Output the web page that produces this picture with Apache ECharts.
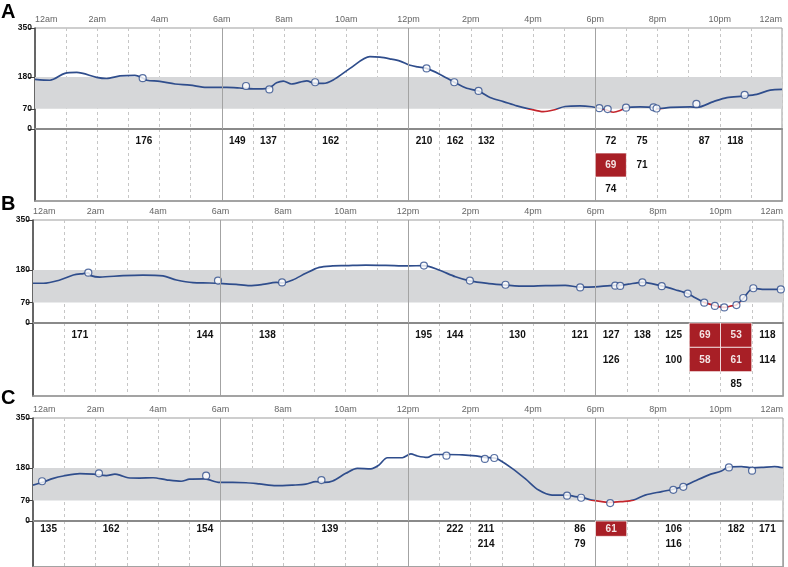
<!DOCTYPE html>
<html><head><meta charset="utf-8">
<script src="https://cdn.jsdelivr.net/npm/echarts@6/dist/echarts.min.js"></script>
<style>html,body{margin:0;padding:0;background:#fff}#c{width:788px;height:567px}</style>
</head><body><div id="c"></div>
<script>
// ---- data ----
const tickLabels = ['12am','2am','4am','6am','8am','10am','12pm','2pm','4pm','6pm','8pm','10pm','12am'];
const yTicks = [0, 70, 180, 350];
const targetRange = [70, 180];
const lowLimit = 70;
const panelLetters = ['A', 'B', 'C'];

// continuous sensor trace [hour, mg/dL]
const traceA = [[0,172],[0.48,169],[0.96,193],[1.34,196],[1.98,179],[2.30,175],[2.73,184],[3.21,186],[3.46,177],[3.59,169],[4.01,165],[4.50,156],[4.98,152],[5.51,144],[6.16,144],[6.58,142],[7.01,139],[7.49,141],[7.76,160],[7.98,166],[8.24,156],[8.73,167],[8.99,158],[9.26,158],[9.58,170],[10.12,210],[10.76,251],[11.08,249],[11.4,243],[11.73,235],[12.02,222],[12.3,215],[12.58,210],[13.0,190],[13.47,162],[13.87,141],[14.24,132],[14.62,109],[15.05,95],[15.48,80],[15.90,69],[16.33,60],[16.66,66],[17.03,78],[17.51,80],[17.89,77],[18.13,72],[18.37,66],[18.58,58],[18.80,64],[18.99,74],[19.44,77],[19.87,75],[19.98,70],[20.41,75],[21.05,77],[21.27,75],[21.80,95],[22.23,109],[22.76,114],[23.19,120],[23.62,135],[24,137]];
const traceB = [[0,135],[0.33,135],[0.86,146],[1.29,163],[1.61,168],[1.77,170],[1.85,161],[2.14,156],[2.88,161],[3.52,163],[4.16,160],[4.59,146],[5.12,137],[5.65,136],[6.07,134],[6.50,131],[6.93,127],[7.35,131],[7.78,138],[7.97,136],[8.31,146],[8.73,169],[9.16,189],[9.59,194],[10.01,195],[10.65,197],[11.29,196],[12.0,194],[12.51,195],[12.99,180],[13.52,157],[13.98,143],[14.59,134],[15.12,129],[15.76,125],[16.40,127],[17.03,128],[17.51,122],[17.99,123],[18.63,128],[18.79,128],[19.05,132],[19.50,138],[19.80,134],[20.12,126],[20.55,113],[20.95,100],[21.19,86],[21.48,70],[21.82,59],[22.12,53],[22.35,58],[22.51,61],[22.73,84],[23.05,118],[23.42,114],[24,115]];
const traceC = [[0,122],[0.29,131],[0.65,145],[0.97,153],[1.5,161],[1.93,159],[2.35,154],[2.62,159],[2.78,156],[3.04,147],[3.41,146],[3.84,147],[4.27,140],[4.74,135],[5.01,142],[5.49,143],[5.97,131],[6.39,131],[6.82,130],[7.24,126],[7.78,120],[8.31,122],[8.73,125],[9.05,134],[9.32,131],[9.59,136],[10.01,162],[10.38,179],[10.81,177],[11.07,190],[11.34,215],[11.82,215],[12.09,228],[12.30,221],[12.62,216],[12.84,226],[13.23,226],[13.74,225],[14.17,221],[14.46,216],[14.76,214],[14.90,209],[15.33,179],[15.76,143],[16.18,105],[16.61,88],[17.09,88],[17.35,83],[17.54,81],[17.88,71],[18.20,66],[18.47,63],[18.84,66],[19.21,71],[19.59,88],[20.12,100],[20.49,108],[20.81,118],[21.18,136],[21.61,156],[22.03,170],[22.27,184],[22.67,185],[23.01,181],[23.31,182],[23.73,185],[24,181]];

// fingerstick readings [hour, mg/dL]
const readingsA = [[3.46,176],[6.78,149],[7.53,137],[9.0,162],[12.58,210],[13.47,162],[14.25,132],[18.13,72],[18.4,69],[18.99,74],[19.87,75],[19.97,71],[21.25,87],[22.8,118]];
const readingsB = [[1.77,171],[5.92,144],[7.97,138],[12.51,195],[13.98,144],[15.12,130],[17.51,121],[18.63,127],[18.79,126],[19.50,138],[20.12,125],[20.95,100],[21.48,69],[21.82,58],[22.12,53],[22.51,61],[22.73,85],[23.05,118],[23.93,114]];
const readingsC = [[0.29,135],[2.11,162],[5.54,154],[9.23,139],[13.23,222],[14.46,211],[14.76,214],[17.09,86],[17.54,79],[18.47,61],[20.49,106],[20.81,116],[22.27,182],[23.01,171]];

const traces = [traceA, traceB, traceC];
const readings = [readingsA, readingsB, readingsC];

// ---- style / layout ----
const BLUE = '#2f4d8c', RED = '#c4262d', BOX = '#a81f26';
const FONT = 'Liberation Sans, Arial, sans-serif';
const layout = [
  {left: 35, width: 747, top: 28, h: 101, th: 72, ly: 2},
  {left: 33, width: 750, top: 220, h: 103, th: 73, ly: 194},
  {left: 33, width: 750, top: 418, h: 103, th: 72, ly: 388}
];

function tableCells(list) {
  const count = {};
  const out = [];
  list.slice().sort((a, b) => a[0] - b[0]).forEach(([t, v]) => {
    const h = Math.floor(t);
    const row = count[h] = (count[h] || 0) + 1;
    out.push([h + 0.5, row - 1, v]);
  });
  return out;
}

const grid = [], xAxis = [], yAxis = [], series = [], title = [], traceIdx = [];

layout.forEach((L, i) => {
  grid.push({left: L.left, top: L.top, width: L.width, height: L.h, show: true, borderColor: '#9d9d9d', borderWidth: 1});
  grid.push({left: L.left, top: L.top + L.h, width: L.width, height: L.th, show: true, borderColor: '#9d9d9d', borderWidth: 1.5});
  const gm = 2 * i, gt = 2 * i + 1;
  const xBase = {type: 'value', min: 0, max: 24, axisTick: {show: false}};
  xAxis.push(Object.assign({}, xBase, {gridIndex: gm, interval: 1, position: 'top',
    axisLine: {show: true, lineStyle: {color: '#9d9d9d', width: 1}},
    axisLabel: {show: true, margin: 4, fontSize: 9, color: '#666', fontFamily: FONT,
      alignMinLabel: 'left', alignMaxLabel: 'right',
      formatter: v => (v % 2 === 0 ? tickLabels[v / 2] : '')},
    splitLine: {show: true, lineStyle: {color: '#c6c6c6', type: [3, 3], width: 1}}}));
  xAxis.push(Object.assign({}, xBase, {gridIndex: gm, interval: 6, position: 'bottom',
    axisLine: {show: true, lineStyle: {color: '#8a8a8a', width: 2}},
    axisLabel: {show: false}, splitLine: {show: false}}));
  xAxis.push(Object.assign({}, xBase, {gridIndex: gt, interval: 1, position: 'top',
    axisLine: {show: false}, axisLabel: {show: false},
    splitLine: {show: true, lineStyle: {color: '#c6c6c6', type: [3, 3], width: 1}}}));
  xAxis.push(Object.assign({}, xBase, {gridIndex: gt, interval: 6, position: 'bottom',
    axisLine: {show: true, lineStyle: {color: '#9d9d9d', width: 1.5}},
    axisLabel: {show: false},
    splitLine: {show: true, lineStyle: {color: '#a3a3a3', width: 1}}}));

  yAxis.push({gridIndex: gm, type: 'value', min: 0, max: 350,
    axisLine: {show: true, lineStyle: {color: '#444', width: 1.5}},
    axisTick: {show: true, length: 7, customValues: yTicks, lineStyle: {color: '#444'}},
    axisLabel: {show: true, customValues: yTicks, fontSize: 8.5, fontWeight: 'bold', color: '#111', margin: 3, fontFamily: FONT},
    splitLine: {show: false}});
  yAxis.push({gridIndex: gt, type: 'category', data: ['0', '1', '2'], inverse: true,
    axisLine: {show: true, lineStyle: {color: '#444', width: 1.5}},
    axisTick: {show: false}, axisLabel: {show: false}, splitLine: {show: false}});

  const xm = 4 * i, xt = 4 * i + 2;
  series.push({type: 'line', xAxisIndex: xm, yAxisIndex: gm, data: traces[i], z: 1, silent: true,
    symbol: 'none', lineStyle: {opacity: 0},
    markArea: {silent: true, itemStyle: {color: '#d6d7d9'}, data: [[{yAxis: targetRange[0]}, {yAxis: targetRange[1]}]]}});
  series.push({type: 'line', xAxisIndex: xm, yAxisIndex: gm, data: traces[i], z: 2, silent: true,
    symbol: 'none', lineStyle: {opacity: 0},
    markLine: {silent: true, symbol: 'none', label: {show: false},
      lineStyle: {color: '#a3a3a3', type: 'solid', width: 1}, data: [{xAxis: 6}, {xAxis: 12}, {xAxis: 18}]}});
  traceIdx.push({idx: series.length, xm: xm, gm: gm});
  series.push({type: 'line', xAxisIndex: xm, yAxisIndex: gm, data: traces[i], smooth: 0.3,
    symbol: 'none', lineStyle: {width: 1.7, color: BLUE}, z: 3, silent: true});
  series.push({type: 'scatter', xAxisIndex: xm, yAxisIndex: gm, data: readings[i], symbol: 'circle', symbolSize: 7,
    itemStyle: {color: '#fff', borderColor: BLUE, borderWidth: 1.2}, z: 4, clip: false, silent: true});
  series.push({type: 'custom', xAxisIndex: xt, yAxisIndex: gt, data: tableCells(readings[i]), z: 4, silent: true,
    renderItem: function (params, api) {
      const v = api.value(2);
      const c = api.coord([api.value(0), api.value(1)]);
      const s = api.size([1, 1]);
      const low = v < lowLimit;
      const children = [];
      if (low) children.push({type: 'rect', shape: {x: c[0] - s[0] / 2, y: c[1] - s[1] / 2, width: s[0], height: s[1]},
        style: {fill: BOX, stroke: 'rgba(255,255,255,0.7)', lineWidth: 1}});
      children.push({type: 'text', x: c[0], y: c[1] + 0.5,
        style: {text: String(v), fill: low ? '#f3e4e4' : '#111', font: 'bold 10px ' + FONT, align: 'center', verticalAlign: 'middle'}});
      return {type: 'group', children: children};
    }});

  title.push({text: panelLetters[i], left: 1, top: L.ly, padding: 0,
    textStyle: {fontSize: 20, fontWeight: 'bold', color: '#000', fontFamily: FONT}});
});

const chart = echarts.init(document.getElementById('c'), null, {renderer: 'canvas'});
chart.setOption({
  animation: false,
  backgroundColor: '#fff',
  title: title, grid: grid, xAxis: xAxis, yAxis: yAxis, series: series
});

// colour the trace red below the low limit: a global vertical gradient placed with the axis scale
const upd = series.map(() => ({}));
traceIdx.forEach(t => {
  const finder = {xAxisIndex: t.xm, yAxisIndex: t.gm};
  const yTop = chart.convertToPixel(finder, [0, 350])[1];
  const yLow = chart.convertToPixel(finder, [0, lowLimit])[1];
  const yBot = chart.convertToPixel(finder, [0, 0])[1];
  const off = (yLow - yTop) / (yBot - yTop);
  upd[t.idx] = {lineStyle: {color: new echarts.graphic.LinearGradient(0, yTop, 0, yBot, [
    {offset: 0, color: BLUE}, {offset: off, color: BLUE}, {offset: off, color: RED}, {offset: 1, color: RED}], true)}};
});
chart.setOption({series: upd});
</script></body></html>
